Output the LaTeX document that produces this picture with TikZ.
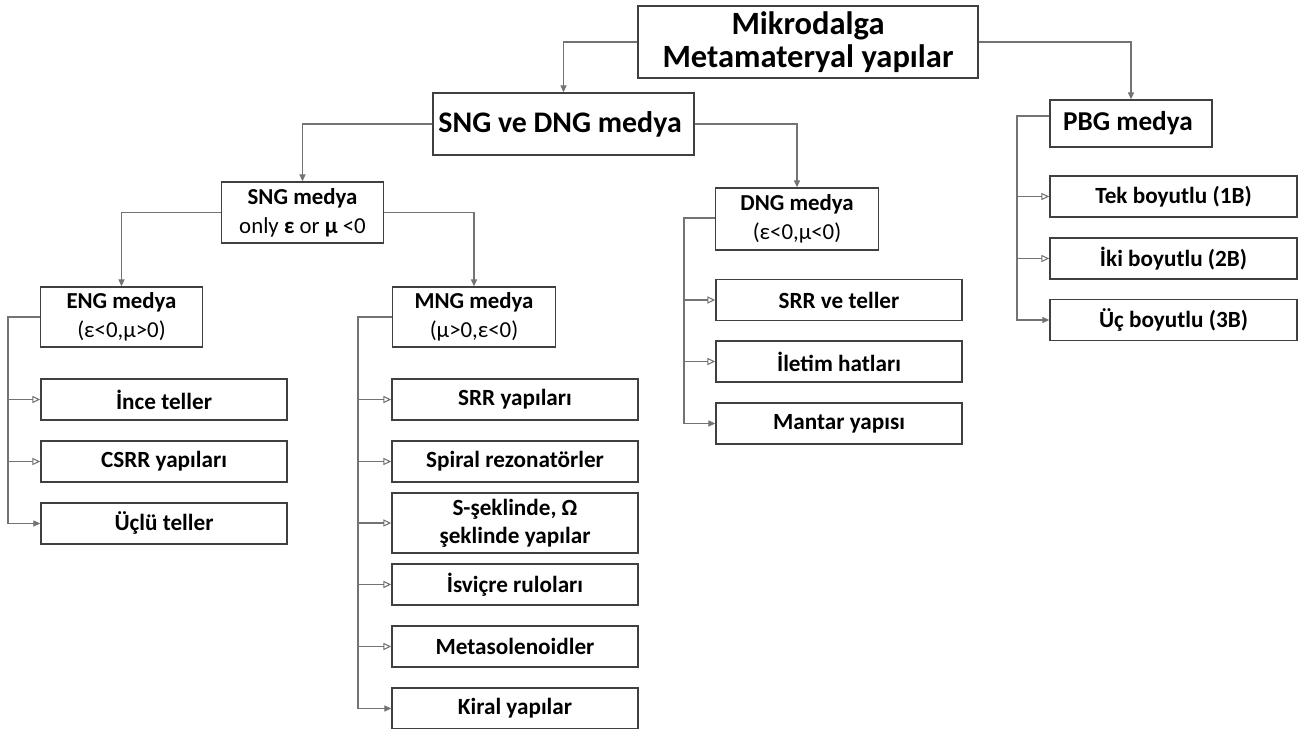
\documentclass[tikz,border=0pt]{standalone}
\usepackage{fontspec}
\setmainfont{Carlito}
\usepackage{tikz}
\usetikzlibrary{arrows.meta}

\begin{document}
\begin{tikzpicture}[
  x=0.02cm, y=-0.02cm,
  box/.style={
      rectangle,
      draw=black!75,
      line width=0.8pt,
      text centered,
      align=center,
      inner sep=2pt,
      fill=white
  },
  rootbox/.style={
      box,
      font=\fontsize{18.5}{19}\selectfont\bfseries
  },
  groupbox/.style={
      box,
      font=\fontsize{17}{19}\selectfont\bfseries
  },
  subbox/.style={
      box,
      minimum width=3.25cm,
      minimum height=1.22cm,
      font=\fontsize{13}{16.5}\selectfont
  },
  leafbox/.style={
      box,
      minimum width=4.92cm,
      minimum height=0.82cm,
      font=\fontsize{13.2}{16}\selectfont\bfseries
  },
  link/.style={
      draw=black!55,
      line width=0.6pt
  },
  arrow/.style={
      link,
      -{Triangle[length=4pt,width=3.5pt]}
  },
  openarrow/.style={
      link,
      -{Triangle[open,length=4.5pt,width=4pt]}
  }
]

\useasboundingbox (0,0) rectangle (1298,729);

% ==================================================
% Top levels
% ==================================================

\node[
    rootbox,
    minimum width=6.8cm,
    minimum height=1.44cm
] (root) at (808,42)
{
Mikrodalga\\
Metamateryal yapılar
};

\node[
    groupbox,
    minimum width=5.22cm,
    minimum height=1.24cm
] (sngdng) at (563.5,124)
{
SNG ve DNG medya
};

\node[
    groupbox,
    font=\fontsize{15.5}{18}\selectfont\bfseries,
    minimum width=3.24cm,
    minimum height=0.94cm
] (pbg) at (1131,123.5)
{
PBG medya
};

% ==================================================
% SNG / DNG
% ==================================================

\node[subbox] (sng) at (302.5,212.5)
{
\textbf{SNG medya}\\
only \textbf{ε} or \textbf{μ} <0
};

\node[subbox, minimum height=1.24cm] (dng) at (797,219)
{
\textbf{DNG medya}\\
(ε<0,μ<0)
};

\node[subbox, minimum height=1.2cm] (eng) at (121.5,317)
{
\textbf{ENG medya}\\
(ε<0,μ>0)
};

\node[subbox, minimum height=1.2cm] (mng) at (474,317)
{
\textbf{MNG medya}\\
(μ>0,ε<0)
};

% ==================================================
% ENG leaves
% ==================================================

\node[leafbox] (ince) at (164,399.5) {İnce teller};
\node[leafbox] (csrr) at (164,461.5) {CSRR yapıları};
\node[leafbox] (uclu) at (164,523.5) {Üçlü teller};

% ==================================================
% MNG leaves
% ==================================================

\node[leafbox] (srr) at (515,399.5) {SRR yapıları};
\node[leafbox] (spiral) at (515,461.5) {Spiral rezonatörler};
\node[leafbox, minimum height=1.2cm] (sform) at (515,523)
{
S-şeklinde, Ω\\
şeklinde yapılar
};
\node[leafbox] (isvicre) at (515,584.5) {İsviçre ruloları};
\node[leafbox] (meta) at (515,646.5) {Metasolenoidler};
\node[leafbox] (kiral) at (515,708.5) {Kiral yapılar};

% ==================================================
% DNG leaves
% ==================================================

\node[leafbox] (srrtel) at (839,300) {SRR ve teller};
\node[leafbox] (iletim) at (839,361.5) {İletim hatları};
\node[leafbox] (mantar) at (839,423.5) {Mantar yapısı};

% ==================================================
% PBG leaves
% ==================================================

\node[leafbox, minimum width=4.94cm] (tek) at (1173.5,196.5) {Tek boyutlu (1B)};
\node[leafbox, minimum width=4.94cm] (iki) at (1173.5,258.5) {İki boyutlu (2B)};
\node[leafbox, minimum width=4.94cm] (ucb) at (1173.5,320) {Üç boyutlu (3B)};

% ==================================================
% Connections
% ==================================================

\draw[arrow] (root.west) -| (sngdng.north);
\draw[arrow] (root.east) -| (pbg.north);
\draw[arrow] (sngdng.west) -| (sng.north);
\draw[arrow] (sngdng.east) -| (dng.north);
\draw[arrow] (sng.west) -| (eng.north);
\draw[arrow] (sng.east) -| (mng.north);

% ENG bus
\coordinate (engbus) at (8,317);
\draw[arrow] (eng.west) -- (engbus) |- (uclu.west);
\draw[openarrow] (engbus |- ince.west) -- (ince.west);
\draw[openarrow] (engbus |- csrr.west) -- (csrr.west);

% MNG bus
\coordinate (mngbus) at (358,317);
\draw[arrow] (mng.west) -- (mngbus) |- (kiral.west);
\foreach \leaf in {srr,spiral,sform,isvicre,meta}
  \draw[openarrow] (mngbus |- \leaf.west) -- (\leaf.west);

% DNG bus
\coordinate (dngbus) at (684,218);
\draw[arrow] (dngbus -| dng.west) -- (dngbus) |- (mantar.west);
\draw[openarrow] (dngbus |- srrtel.west) -- (srrtel.west);
\draw[openarrow] (dngbus |- iletim.west) -- (iletim.west);

% PBG bus
\coordinate (pbgbus) at (1017,116);
\draw[arrow] (pbgbus -| pbg.west) -- (pbgbus) |- (ucb.west);
\draw[openarrow] (pbgbus |- tek.west) -- (tek.west);
\draw[openarrow] (pbgbus |- iki.west) -- (iki.west);

\end{tikzpicture}
\end{document}
